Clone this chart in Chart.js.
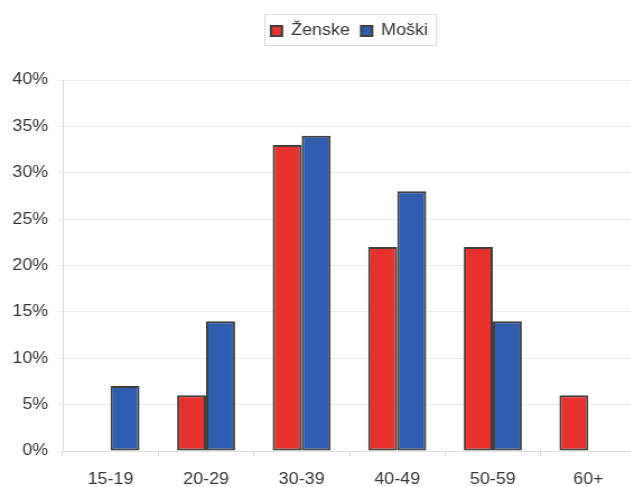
<!DOCTYPE html>
<html>
<head>
<meta charset="utf-8">
<script src="https://cdn.jsdelivr.net/npm/chart.js@4"></script>
<style>
    html, body {
        margin: 0;
        padding: 0;
        background: #fff;
        overflow: hidden;
    }
    /* grafikon je narisan ožje in nato raztegnjen v širino */
    #okvir {
        width: 568px;
        height: 487px;
        transform: scaleX(1.12);
        transform-origin: 0 0;
    }
</style>
</head>
<body>
<div id="okvir"><canvas id="grafStarost"></canvas></div>

<script>
const starostneSkupine = ["15-19", "20-29", "30-39", "40-49", "50-59", "60+"];
const zenske = [0, 6, 33, 22, 22, 6];
const moski = [7, 14, 34, 28, 14, 0];
const oznakeY = [0, 5, 10, 15, 20, 25, 30, 35, 40];

let chart = null;

// okvir okrog legende
const okvirLegende = {
    id: "okvirLegende",
    beforeInit(chart) {
        const fit = chart.legend.fit;
        chart.legend.fit = function () {
            fit.bind(chart.legend)();
            this.height += 31;
        };
    },
    afterDraw(chart) {
        const boxes = chart.legend.legendHitBoxes;
        if (!boxes || !boxes.length) return;
        const prvi = boxes[0];
        const zadnji = boxes[boxes.length - 1];
        const ctx = chart.ctx;
        ctx.save();
        ctx.strokeStyle = "#dcdcdc";
        ctx.lineWidth = 1;
        ctx.strokeRect(
            Math.round(prvi.left - 6) + 0.5,
            Math.round(prvi.top - 9) + 0.5,
            Math.round(zadnji.left + zadnji.width + 7 - (prvi.left - 6)),
            Math.round(prvi.height + 15)
        );
        ctx.restore();
    }
};

window.onload = () => {
    Chart.defaults.font.family = "'Liberation Sans', Arial, sans-serif";
    Chart.defaults.font.size = 16;
    Chart.defaults.color = "#383838";

    const ctx = document.getElementById("grafStarost").getContext("2d");

    chart = new Chart(ctx, {
        type: "bar",
        data: {
            labels: starostneSkupine,
            datasets: [{
                label: "Ženske",
                data: zenske,
                backgroundColor: "#e8312c",
                borderColor: "#404040",
                borderWidth: 2,
                borderSkipped: false
            }, {
                label: "Moški",
                data: moski,
                backgroundColor: "#2f5db0",
                borderColor: "#404040",
                borderWidth: 2,
                borderSkipped: false
            }]
        },
        options: {
            responsive: true,
            maintainAspectRatio: false,
            animation: false,
            categoryPercentage: 0.607,
            barPercentage: 1,
            layout: {
                padding: { top: 13, left: 0, right: 0, bottom: 0 }
            },
            plugins: {
                legend: {
                    position: "top",
                    fullSize: false,
                    labels: {
                        boxWidth: 10,
                        boxHeight: 10,
                        padding: 10
                    }
                },
                tooltip: { enabled: false }
            },
            scales: {
                x: {
                    grid: {
                        drawOnChartArea: false,
                        tickLength: 5,
                        color: "#d4d4d4"
                    },
                    border: { color: "#e0e0e0" },
                    ticks: { padding: 14 },
                    afterFit(scale) {
                        scale.height = 36;
                    }
                },
                y: {
                    min: 0,
                    max: 40,
                    afterBuildTicks(scale) {
                        scale.ticks = oznakeY.map(v => ({ value: v }));
                    },
                    ticks: {
                        padding: 8,
                        callback: v => v + "%"
                    },
                    grid: {
                        color: "#ececec",
                        tickLength: 5
                    },
                    border: { color: "#dadada" },
                    afterFit(scale) {
                        scale.width = 56;
                    }
                }
            }
        },
        plugins: [okvirLegende]
    });
};
</script>
</body>
</html>
